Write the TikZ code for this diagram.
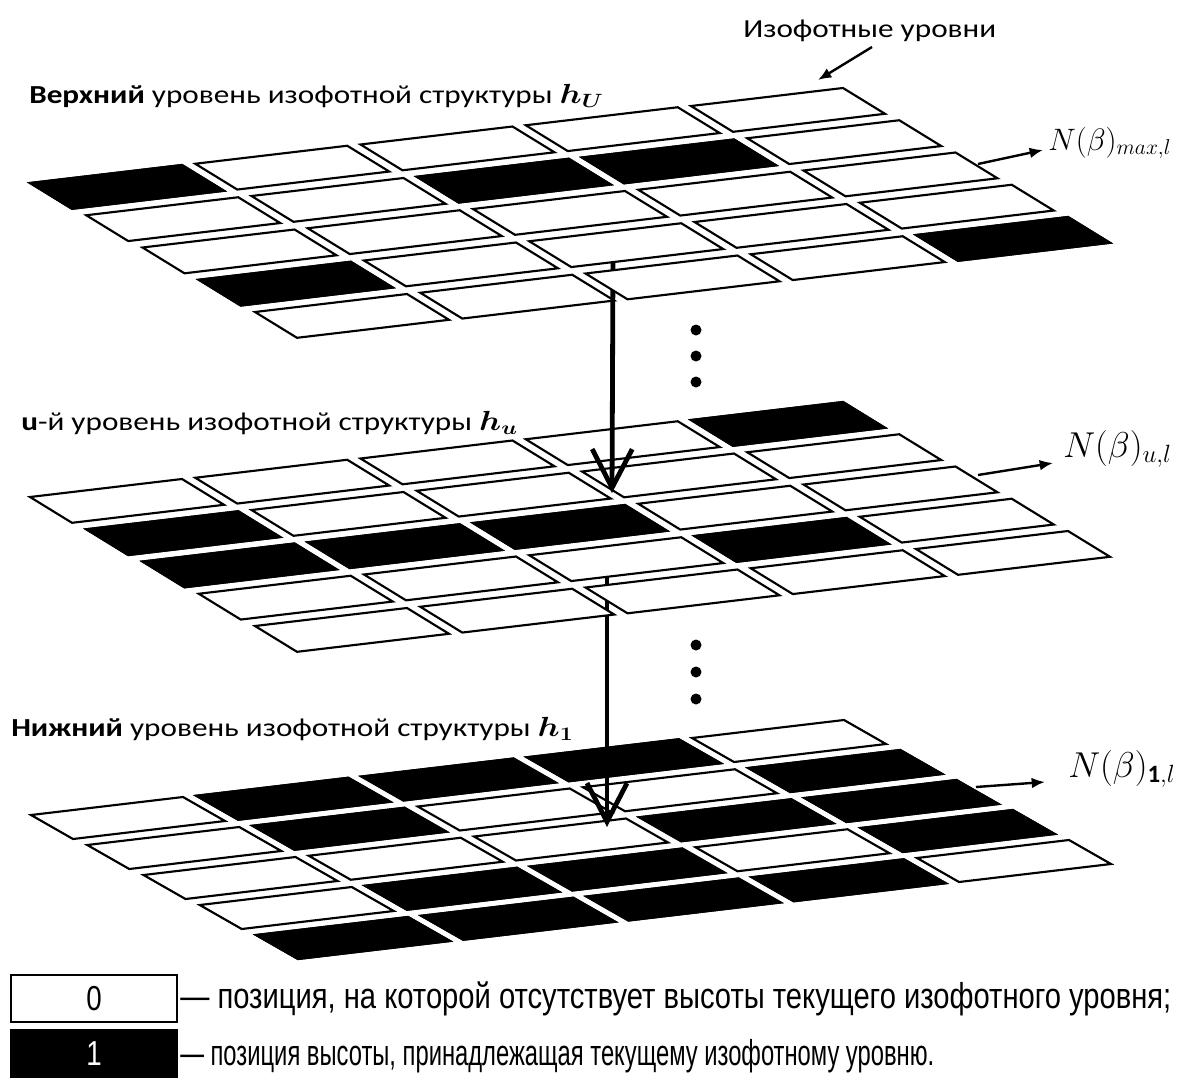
\documentclass[tikz,border=0pt]{standalone}
\usepackage{fontspec}
\usepackage{amsmath}
\usepackage{bm}
\usepackage{graphicx}
\setmainfont{Carlito}
\newfontfamily\legendfont{Liberation Sans}
\usetikzlibrary{arrows.meta}
\tikzset{
  cellw/.style={draw=black, fill=white, line width=1.6pt, line join=miter},
  cellb/.style={draw=black, fill=black, line width=1.6pt, line join=miter},
  bigarrow/.style={line width=3.6pt, -{Straight Barb[length=29pt,width=30pt,line width=3.6pt]}},
  smallarrow/.style={line width=1.8pt, -{Latex[length=10pt,width=8pt]}},
  dotmark/.style={fill=black, draw=none},
  lbl/.style={anchor=base west, inner sep=0pt, font=\fontsize{19.5}{21}\selectfont},
  nlbl/.style={anchor=base west, inner sep=0pt, font=\fontsize{20.74}{22}\selectfont},
  legtext/.style={anchor=west, inner sep=0pt},
}
% #1 ox, #2 oy, #3 row step y, #4 row, #5 col, #6 style
\newcommand\cellat[6]{\path[#6] ({#1+#5*165.25+#4*56.25},{#2-#5*19.25+#4*#3}) -- ++(152,-18) -- ++(42,{0.8*#3}) -- ++(-152,18) -- cycle;}
% #1 ox, #2 oy, #3 row step, #4 list of black r/c
\newcommand\gridlayer[4]{%
  \foreach \rr in {0,...,4}{\foreach \cc in {0,...,4}{\cellat{#1}{#2}{#3}{\rr}{\cc}{cellw}}}%
  \foreach \rr/\cc in {#4}{\cellat{#1}{#2}{#3}{\rr}{\cc}{cellb}}%
}
\begin{document}
\begin{tikzpicture}[x=0.75pt,y=-0.75pt]
\useasboundingbox (0,0) rectangle (1183,1078);
\fill[white] (0,0) rectangle (1183,1078);

% bottom layer
\gridlayer{31}{815}{30}{0/1,0/2,0/3,1/1,1/4,2/3,2/4,3/1,3/2,3/4,4/0,4/1,4/2,4/3}
% arrow middle -> bottom
\coordinate (a2s) at (607,575);
\coordinate (a2e) at (607,827);
\draw[bigarrow] (a2s) -- (a2e);
% middle layer
\gridlayer{30}{497}{32.25}{0/4,1/0,2/0,2/1,2/2,3/3}
% arrow top -> middle
\coordinate (a1s) at (613,262);
\coordinate (a1e) at (612,493);
\draw[bigarrow] (a1s) -- (a1e);
% top layer
\gridlayer{30}{183}{32.25}{0/0,1/2,1/3,3/0,4/4}

% dots
\foreach \yy [count=\k] in {330,356,382,645,672,699}{\fill[dotmark] (696,\yy) circle (5.5);}

% labels
\node[lbl] (lU) at (29,103) {\scalebox{1.2}[1]{\textbf{Верхний} уровень изофотной структуры $\bm{h}_{\bm{U}}$}};
\node[lbl] (lu) at (21,430) {\scalebox{1.2}[1]{\textbf{u}-й уровень изофотной структуры $\bm{h}_{\bm{u}}$}};
\node[lbl] (l1) at (11,736) {\scalebox{1.2}[1]{\textbf{Нижний} уровень изофотной структуры $\bm{h}_{\bm{1}}$}};
\node[lbl] (iso) at (743,37) {\scalebox{1.2}[1]{Изофотные уровни}};
\coordinate (isoS) at (872,47);
\coordinate (isoE) at (818,80);
\draw[smallarrow] (isoS) -- (isoE);

% N labels
\node[nlbl] (nmax) at (1048,150) {\scalebox{1.12}{$N(\beta)_{max,l}$}};
\node[nlbl] (nu) at (1063,457) {\scalebox{1.3}{$N(\beta)_{u,l}$}};
\node[nlbl] (n1) at (1068,777) {\scalebox{1.3}{$N(\beta)_{\mathbf{1},l}$}};
\coordinate (m1s) at (978,164); \coordinate (m1e) at (1043,150);
\coordinate (m2s) at (978,475); \coordinate (m2e) at (1053,463);
\coordinate (m3s) at (976,787); \coordinate (m3e) at (1045,782);
\draw[smallarrow] (m1s) -- (m1e);
\draw[smallarrow] (m2s) -- (m2e);
\draw[smallarrow] (m3s) -- (m3e);

% legend
\node[draw=black, fill=white, line width=1.2pt, minimum width=124.5pt, minimum height=35pt, inner sep=0pt,
      font=\legendfont\fontsize{26}{27}\selectfont] (k0) at (94,998.5) {\scalebox{0.8}[1]{0}};
\node[draw=black, fill=black, text=white, line width=1.2pt, minimum width=124.5pt, minimum height=36pt, inner sep=0pt,
      font=\legendfont\fontsize{26}{27}\selectfont] (k1) at (94,1054) {\scalebox{0.8}[1]{1}};
\node[legtext] (t0) at (180,999) {\legendfont\fontsize{27}{29}\selectfont\scalebox{0.81}[1]{— позиция, на которой отсутствует высоты текущего изофотного уровня;}};
\node[legtext] (t1) at (180,1056) {\legendfont\fontsize{27}{29}\selectfont\scalebox{0.66}[1]{— позиция высоты, принадлежащая текущему изофотному уровню.}};
\end{tikzpicture}
\end{document}
